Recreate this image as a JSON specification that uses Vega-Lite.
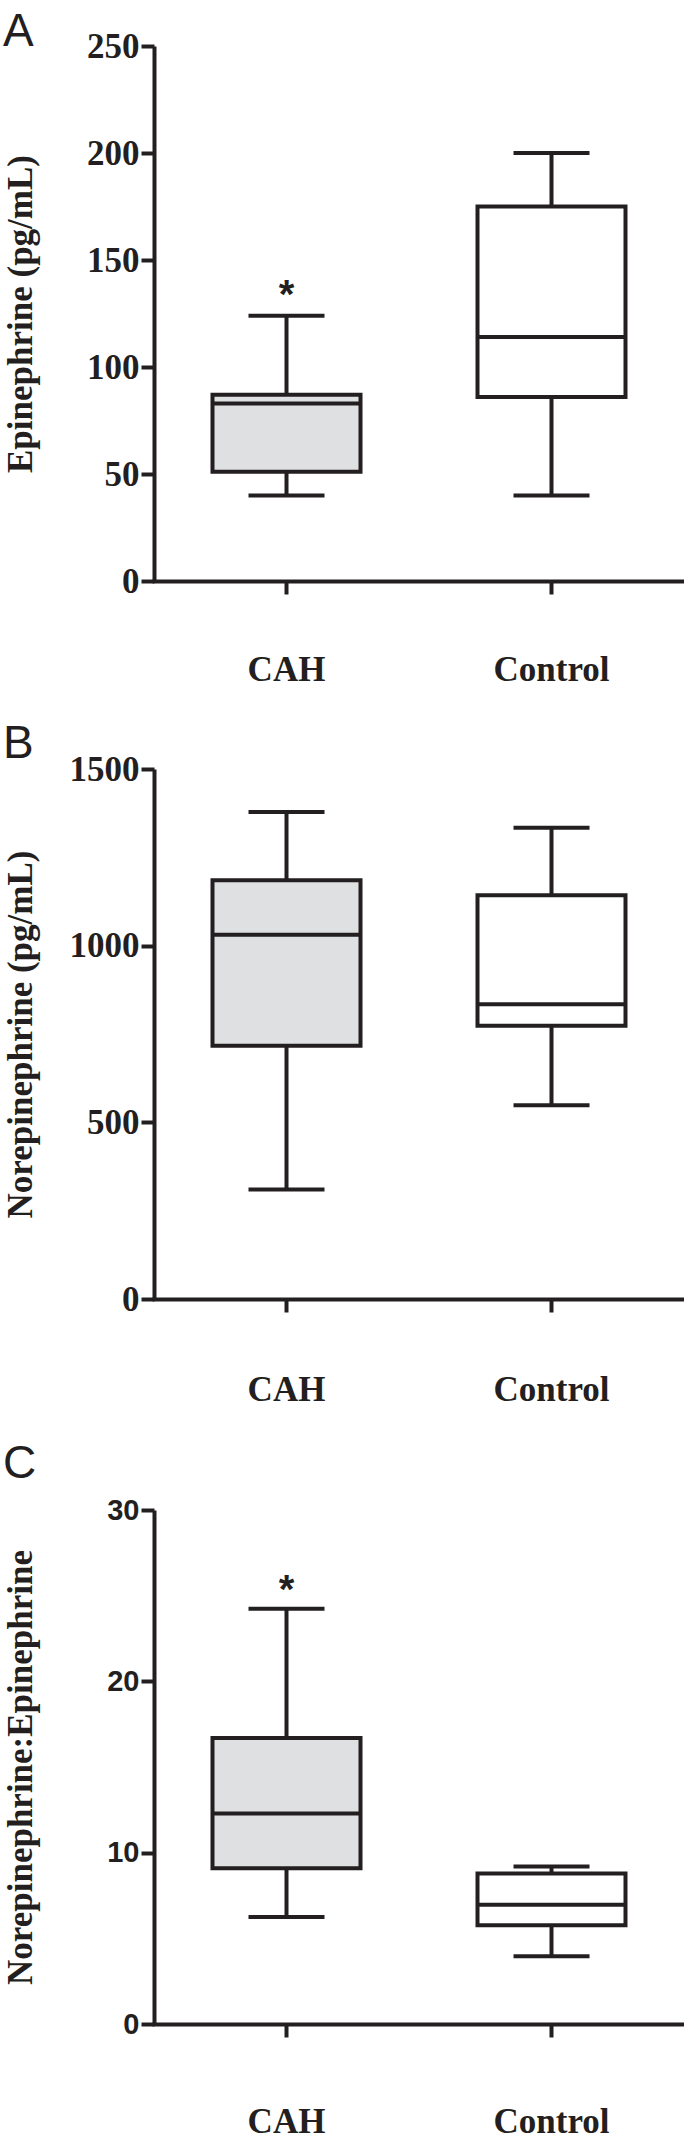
{
  "$schema": "https://vega.github.io/schema/vega-lite/v6.json",
  "padding": {"left": 2, "top": 9, "right": 0, "bottom": 0},
  "background": "white",
  "datasets": {
    "epi": [
      {"group": "CAH", "lower": 40, "q1": 51, "median": 83, "q3": 87, "upper": 124, "sig": "*"},
      {"group": "Control", "lower": 40, "q1": 86, "median": 114, "q3": 175, "upper": 200, "sig": ""}
    ],
    "norepi": [
      {"group": "CAH", "lower": 310, "q1": 717, "median": 1031, "q3": 1185, "upper": 1378, "sig": ""},
      {"group": "Control", "lower": 548, "q1": 773, "median": 834, "q3": 1143, "upper": 1334, "sig": ""}
    ],
    "ratio": [
      {"group": "CAH", "lower": 6.24, "q1": 9.09, "median": 12.28, "q3": 16.69, "upper": 24.23, "sig": "*"},
      {"group": "Control", "lower": 3.96, "q1": 5.76, "median": 6.96, "q3": 8.78, "upper": 9.19, "sig": ""}
    ]
  },
  "vconcat": [
    {
      "title": {"text": "A", "offset": -27},
      "width": 530,
      "height": 535,
      "data": {"name": "epi"},
      "encoding": {
        "x": {"field": "group", "type": "nominal", "title": null, "scale": {"paddingInner": 0, "paddingOuter": 0}, "axis": {"labelPadding": 58}}
      },
      "layer": [
        {"mark": {"type": "rule", "strokeWidth": 4, "color": "#231f20"},
         "encoding": {"y": {"field": "lower", "type": "quantitative", "scale": {"domain": [0, 250], "nice": false}, "axis": {"values": [0, 50, 100, 150, 200, 250], "title": "Epinephrine (pg/mL)"}}, "y2": {"field": "upper"}}},
        {"mark": {"type": "bar", "size": 148, "stroke": "#231f20", "strokeWidth": 4, "opacity": 1},
         "encoding": {"y": {"field": "q1", "type": "quantitative"}, "y2": {"field": "q3"}, "fill": {"field": "group", "type": "nominal", "scale": {"domain": ["CAH", "Control"], "range": ["#dfe0e2", "#ffffff"]}, "legend": null}}},
        {"mark": {"type": "tick", "size": 146, "thickness": 4, "color": "#231f20", "opacity": 1}, "encoding": {"y": {"field": "median", "type": "quantitative"}}},
        {"mark": {"type": "tick", "size": 76, "thickness": 4, "color": "#231f20", "opacity": 1}, "encoding": {"y": {"field": "lower", "type": "quantitative"}}},
        {"mark": {"type": "tick", "size": 76, "thickness": 4, "color": "#231f20", "opacity": 1}, "encoding": {"y": {"field": "upper", "type": "quantitative"}}},
        {"mark": {"type": "text", "font": "Liberation Sans", "fontWeight": "bold", "fontSize": 40, "baseline": "alphabetic", "dy": -8, "color": "#231f20"},
         "encoding": {"y": {"field": "upper", "type": "quantitative"}, "text": {"field": "sig"}}}
      ]
    },
    {
      "title": {"text": "B", "offset": -16},
      "width": 530,
      "height": 530,
      "data": {"name": "norepi"},
      "encoding": {
        "x": {"field": "group", "type": "nominal", "title": null, "scale": {"paddingInner": 0, "paddingOuter": 0}, "axis": {"labelPadding": 60}}
      },
      "layer": [
        {"mark": {"type": "rule", "strokeWidth": 4, "color": "#231f20"},
         "encoding": {"y": {"field": "lower", "type": "quantitative", "scale": {"domain": [0, 1500], "nice": false}, "axis": {"values": [0, 500, 1000, 1500], "format": "d", "title": "Norepinephrine (pg/mL)"}}, "y2": {"field": "upper"}}},
        {"mark": {"type": "bar", "size": 148, "stroke": "#231f20", "strokeWidth": 4, "opacity": 1},
         "encoding": {"y": {"field": "q1", "type": "quantitative"}, "y2": {"field": "q3"}, "fill": {"field": "group", "type": "nominal", "scale": {"domain": ["CAH", "Control"], "range": ["#dfe0e2", "#ffffff"]}, "legend": null}}},
        {"mark": {"type": "tick", "size": 146, "thickness": 4, "color": "#231f20", "opacity": 1}, "encoding": {"y": {"field": "median", "type": "quantitative"}}},
        {"mark": {"type": "tick", "size": 76, "thickness": 4, "color": "#231f20", "opacity": 1}, "encoding": {"y": {"field": "lower", "type": "quantitative"}}},
        {"mark": {"type": "tick", "size": 76, "thickness": 4, "color": "#231f20", "opacity": 1}, "encoding": {"y": {"field": "upper", "type": "quantitative"}}}
      ]
    },
    {
      "title": {"text": "C", "offset": 8},
      "width": 530,
      "height": 514,
      "data": {"name": "ratio"},
      "encoding": {
        "x": {"field": "group", "type": "nominal", "title": null, "scale": {"paddingInner": 0, "paddingOuter": 0}, "axis": {"labelPadding": 67}}
      },
      "layer": [
        {"mark": {"type": "rule", "strokeWidth": 4, "color": "#231f20"},
         "encoding": {"y": {"field": "lower", "type": "quantitative", "scale": {"domain": [0, 30], "nice": false}, "axis": {"values": [0, 10, 20, 30], "title": "Norepinephrine:Epinephrine", "labelFont": "Liberation Sans", "labelFontSize": 29}}, "y2": {"field": "upper"}}},
        {"mark": {"type": "bar", "size": 148, "stroke": "#231f20", "strokeWidth": 4, "opacity": 1},
         "encoding": {"y": {"field": "q1", "type": "quantitative"}, "y2": {"field": "q3"}, "fill": {"field": "group", "type": "nominal", "scale": {"domain": ["CAH", "Control"], "range": ["#dfe0e2", "#ffffff"]}, "legend": null}}},
        {"mark": {"type": "tick", "size": 146, "thickness": 4, "color": "#231f20", "opacity": 1}, "encoding": {"y": {"field": "median", "type": "quantitative"}}},
        {"mark": {"type": "tick", "size": 76, "thickness": 4, "color": "#231f20", "opacity": 1}, "encoding": {"y": {"field": "lower", "type": "quantitative"}}},
        {"mark": {"type": "tick", "size": 76, "thickness": 4, "color": "#231f20", "opacity": 1}, "encoding": {"y": {"field": "upper", "type": "quantitative"}}},
        {"mark": {"type": "text", "font": "Liberation Sans", "fontWeight": "bold", "fontSize": 40, "baseline": "alphabetic", "dy": -6, "color": "#231f20"},
         "encoding": {"y": {"field": "upper", "type": "quantitative"}, "text": {"field": "sig"}}}
      ]
    }
  ],
  "config": {
    "view": {"stroke": null},
    "concat": {"spacing": 34},
    "title": {"font": "Liberation Sans", "fontWeight": "normal", "fontSize": 46, "color": "#231f20", "anchor": "start", "frame": "bounds"},
    "axis": {
      "domainColor": "#231f20", "domainWidth": 4, "tickColor": "#231f20", "tickWidth": 4, "tickSize": 13,
      "labelFont": "Liberation Serif", "labelFontWeight": "bold", "labelFontSize": 35, "labelColor": "#231f20",
      "titleFont": "Liberation Serif", "titleFontWeight": "bold", "titleFontSize": 35, "titleColor": "#231f20",
      "grid": false
    },
    "axisY": {"labelPadding": 2, "titleX": -116},
    "axisX": {"labelAngle": 0, "bandPosition": 0.5, "domainCap": "square"}
  }
}
